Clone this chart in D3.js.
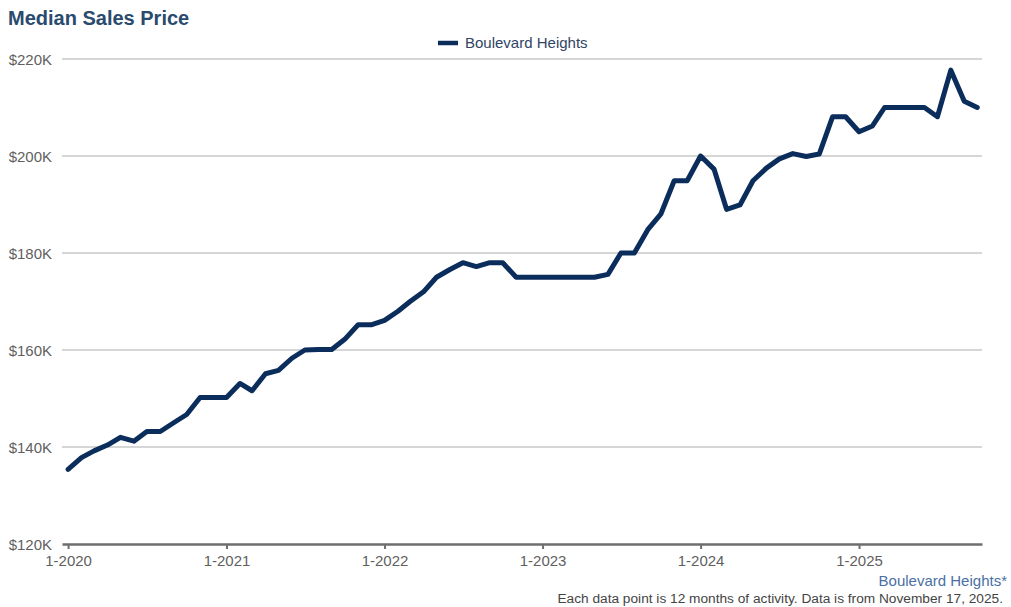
<!DOCTYPE html>
<html>
<head>
<meta charset="utf-8">
<script src="https://cdn.jsdelivr.net/npm/d3@7"></script>
<style>
  body { margin: 0; background: #fff; }
  svg { display: block; font-family: "Liberation Sans", Arial, sans-serif; }
</style>
</head>
<body>
<svg id="chart" width="1011" height="607"></svg>
<script>
const seriesName = "Boulevard Heights";
const startMonth = "2020-01";
const prices = [
  135.4, 137.8, 139.2, 140.4, 142.0, 141.2, 143.2, 143.2, 145.0, 146.7, 150.2, 150.2,
  150.2, 153.1, 151.6, 155.1, 155.8, 158.3, 160.0, 160.1, 160.1, 162.2, 165.2, 165.2,
  166.1, 168.0, 170.0, 172.0, 175.0, 176.6, 178.0, 177.2, 178.0, 178.0, 175.0, 175.0,
  175.0, 175.0, 175.0, 175.0, 175.0, 175.6, 180.0, 180.0, 184.8, 188.0, 194.9, 194.9,
  200.0, 197.3, 189.0, 189.9, 194.9, 197.5, 199.4, 200.5, 199.9, 200.4, 208.1, 208.1,
  205.0, 206.2, 210.0, 210.0, 210.0, 210.0, 208.1, 217.7, 211.3, 210.0
];
const yTicks = [120, 140, 160, 180, 200, 220];
const xTickYears = [2020, 2021, 2022, 2023, 2024, 2025];

const parse = d3.timeParse("%Y-%m");
const start = parse(startMonth);
const data = prices.map((v, i) => ({ date: d3.timeMonth.offset(start, i), value: v }));

const svg = d3.select("#chart");
const mLeft = 62, mRight = 982, mTop = 59, mBottom = 544;

const x = d3.scaleTime()
  .domain([d3.timeDay.offset(start, -14), d3.timeDay.offset(data[data.length - 1].date, 11)])
  .range([mLeft, mRight]);
const y = d3.scaleLinear().domain([120, 220]).range([mBottom, mTop]);

// Title
svg.append("text").attr("x", 8).attr("y", 25)
  .attr("font-size", 20).attr("font-weight", "bold").attr("fill", "#2a4a6e")
  .text("Median Sales Price");

// Legend
svg.append("line").attr("x1", 438).attr("x2", 458).attr("y1", 43).attr("y2", 43)
  .attr("stroke", "#0b2d5b").attr("stroke-width", 4.5);
svg.append("text").attr("x", 465).attr("y", 48).attr("font-size", 15).attr("fill", "#2f4565")
  .text(seriesName);

// Gridlines
svg.append("g").selectAll("line").data(yTicks.filter(t => t !== 120)).join("line")
  .attr("x1", mLeft).attr("x2", mRight)
  .attr("y1", d => y(d)).attr("y2", d => y(d))
  .attr("stroke", "#c8c8c8").attr("stroke-width", 1.5);

// Y labels
svg.append("g").selectAll("text").data(yTicks).join("text")
  .attr("x", 52).attr("y", d => y(d) + 5.5)
  .attr("text-anchor", "end").attr("font-size", 15).attr("fill", "#5f5f5f")
  .text(d => "$" + d + "K");

// X axis
const xAxis = d3.axisBottom(x)
  .tickValues(xTickYears.map(yr => new Date(yr, 0, 1)))
  .tickFormat(d => "1-" + d.getFullYear())
  .tickSize(5).tickSizeOuter(0);
const gx = svg.append("g").attr("transform", `translate(0,${mBottom})`).call(xAxis);
gx.select(".domain").attr("stroke", "#6e6e6e").attr("stroke-width", 2.5);
gx.selectAll(".tick line").attr("stroke", "#6e6e6e").attr("stroke-width", 2);
gx.selectAll(".tick text").attr("font-size", 15).attr("fill", "#5f5f5f")
  .attr("font-family", "Liberation Sans, Arial, sans-serif").attr("dy", "0.95em");

// Line
const line = d3.line().x(d => x(d.date)).y(d => y(d.value));
svg.append("path").datum(data)
  .attr("fill", "none").attr("stroke", "#0b2d5b").attr("stroke-width", 5)
  .attr("stroke-linejoin", "round").attr("stroke-linecap", "round")
  .attr("d", line);

// Footer
svg.append("text").attr("x", 1007).attr("y", 586).attr("text-anchor", "end")
  .attr("font-size", 15).attr("fill", "#4a6fa5").text(seriesName + "*");
svg.append("text").attr("x", 1003).attr("y", 603).attr("text-anchor", "end")
  .attr("font-size", 13.7).attr("fill", "#444")
  .text("Each data point is 12 months of activity. Data is from November 17, 2025.");
</script>
</body>
</html>
